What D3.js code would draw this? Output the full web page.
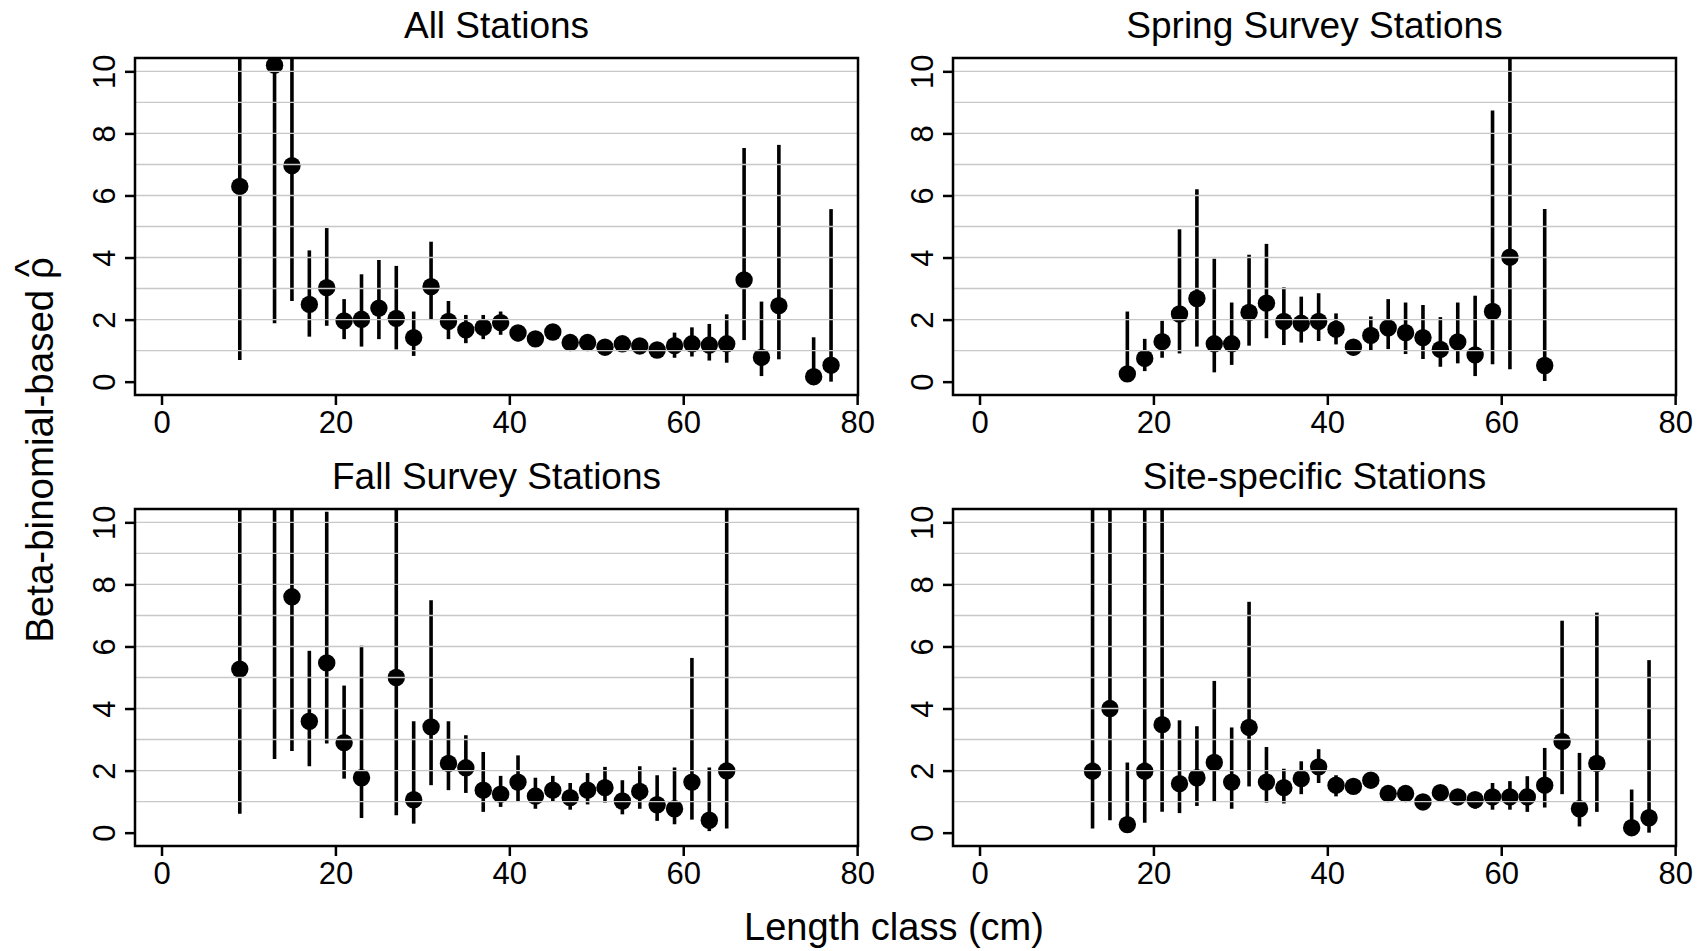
<!DOCTYPE html>
<html>
<head>
<meta charset="utf-8">
<script src="https://d3js.org/d3.v7.min.js"></script>
<style>
    body { margin: 0; background: #fff; }
    svg { display: block; font-family: "Liberation Sans", Arial, sans-serif; }
</style>
</head>
<body>
<div id="container"></div>
<script>
//beta-binomial rho estimates by length class, four station groups
//values above the frame (off-chart CI ends) are given as 12

//All Stations
var allLen = [9, 13, 15, 17, 19, 21, 23, 25, 27, 29, 31, 33, 35, 37, 39, 41, 43, 45, 47, 49, 51, 53, 55, 57, 59, 61, 63, 65, 67, 69, 71, 75, 77];
var allEst = [6.29, 10.2, 6.96, 2.49, 3.03, 1.96, 2.01, 2.37, 2.04, 1.42, 3.06, 1.94, 1.67, 1.75, 1.90, 1.57, 1.38, 1.60, 1.26, 1.26, 1.11, 1.22, 1.15, 1.02, 1.16, 1.22, 1.18, 1.22, 3.28, 0.78, 2.45, 0.16, 0.53];
var allHi  = [12, 12, 12, 4.23, 4.95, 2.66, 3.46, 3.92, 3.73, 2.26, 4.51, 2.60, 2.15, 2.15, 2.26, 1.80, 1.55, 1.75, 1.40, 1.40, 1.25, 1.38, 1.30, 1.20, 1.58, 1.75, 1.86, 2.17, 7.53, 2.58, 7.63, 1.43, 5.56];
var allLo  = [0.70, 1.88, 2.60, 1.45, 1.80, 1.37, 1.13, 1.37, 1.04, 0.83, 1.99, 1.37, 1.24, 1.37, 1.51, 1.30, 1.20, 1.45, 1.12, 1.12, 0.98, 1.08, 1.00, 0.77, 0.77, 0.81, 0.68, 0.61, 1.34, 0.18, 0.72, 0.05, 0.00];

//Spring Survey Stations
var springLen = [17, 19, 21, 23, 25, 27, 29, 31, 33, 35, 37, 39, 41, 43, 45, 47, 49, 51, 53, 55, 57, 59, 61, 65];
var springEst = [0.25, 0.75, 1.29, 2.18, 2.68, 1.22, 1.22, 2.23, 2.53, 1.94, 1.88, 1.94, 1.69, 1.11, 1.49, 1.73, 1.58, 1.42, 1.04, 1.28, 0.86, 2.26, 4.01, 0.52];
var springHi  = [2.26, 1.38, 1.96, 4.91, 6.20, 3.96, 2.55, 4.09, 4.44, 3.04, 2.74, 2.85, 2.20, 1.29, 2.10, 2.66, 2.55, 2.47, 2.08, 2.55, 2.77, 8.74, 12, 5.56];
var springLo  = [0.02, 0.34, 0.77, 0.91, 1.13, 0.30, 0.54, 1.16, 1.40, 1.18, 1.26, 1.31, 1.20, 0.85, 1.02, 1.05, 0.89, 0.73, 0.48, 0.59, 0.18, 0.56, 0.40, 0.02];

//Fall Survey Stations
var fallLen = [9, 13, 15, 17, 19, 21, 23, 27, 29, 31, 33, 35, 37, 39, 41, 43, 45, 47, 49, 51, 53, 55, 57, 59, 61, 63, 65];
var fallEst = [5.27, 11.5, 7.60, 3.59, 5.47, 2.90, 1.77, 5.00, 1.06, 3.41, 2.23, 2.09, 1.37, 1.24, 1.63, 1.18, 1.37, 1.13, 1.37, 1.45, 1.02, 1.33, 0.90, 0.77, 1.63, 0.40, 1.99];
var fallHi  = [12, 12, 12, 5.86, 10.34, 4.74, 6.02, 12, 3.59, 7.49, 3.59, 3.14, 2.60, 1.83, 2.49, 1.77, 1.83, 1.60, 1.92, 2.12, 1.69, 2.14, 1.85, 2.10, 5.63, 2.10, 12];
var fallLo  = [0.61, 2.37, 2.63, 2.14, 2.87, 1.74, 0.47, 0.56, 0.29, 1.53, 1.37, 1.28, 0.67, 0.83, 1.01, 0.77, 0.99, 0.74, 0.91, 0.97, 0.59, 0.77, 0.38, 0.27, 0.42, 0.05, 0.13];

//Site-specific Stations
var siteLen = [13, 15, 17, 19, 21, 23, 25, 27, 29, 31, 33, 35, 37, 39, 41, 43, 45, 47, 49, 51, 53, 55, 57, 59, 61, 63, 65, 67, 69, 71, 75, 77];
var siteEst = [1.98, 4.00, 0.26, 1.98, 3.48, 1.58, 1.77, 2.26, 1.63, 3.39, 1.63, 1.45, 1.74, 2.12, 1.53, 1.49, 1.69, 1.26, 1.26, 0.99, 1.29, 1.15, 1.06, 1.15, 1.15, 1.15, 1.53, 2.94, 0.77, 2.23, 0.16, 0.48];
var siteHi  = [12, 12, 2.26, 12, 12, 3.62, 3.43, 4.89, 3.39, 7.44, 2.76, 2.06, 2.30, 2.69, 1.85, 1.62, 1.80, 1.40, 1.40, 1.12, 1.42, 1.28, 1.31, 1.60, 1.66, 1.82, 2.73, 6.83, 2.57, 7.09, 1.39, 5.56];
var siteLo  = [0.13, 0.40, 0.02, 0.32, 0.67, 0.63, 0.86, 1.01, 0.77, 1.49, 0.97, 0.94, 1.24, 1.60, 1.17, 1.35, 1.55, 1.12, 1.12, 0.86, 1.15, 1.00, 0.77, 0.74, 0.74, 0.67, 0.81, 1.24, 0.20, 0.67, 0.02, 0.00];

var panelTitles = ["All Stations", "Spring Survey Stations", "Fall Survey Stations", "Site-specific Stations"];
var xTicks = [0, 20, 40, 60, 80];
var yTicks = [0, 2, 4, 6, 8, 10];
var yGrid = [1, 2, 3, 4, 5, 6, 7, 8, 9, 10];
var xTitle = "Length class (cm)";
var yTitle = "Beta-binomial-based ";

//helper to zip the arrays into rows for d3
function makeRows(len, est, lo, hi){
    return len.map(function(d, i){
        return {len: d, est: est[i], lo: lo[i], hi: hi[i]};
    });
}

var panelData = [
    makeRows(allLen, allEst, allLo, allHi),
    makeRows(springLen, springEst, springLo, springHi),
    makeRows(fallLen, fallEst, fallLo, fallHi),
    makeRows(siteLen, siteEst, siteLo, siteHi)
];

var width = 1702,
    height = 951;

//frame positions of the two columns and two rows
var cols = [[135, 858], [953, 1676]],
    rows = [[58, 395], [509, 846]];

var svg = d3.select("#container")
    .append("svg")
    .attr("width", width)
    .attr("height", height);

panelData.forEach(function(data, p){
    var c = cols[p % 2], r = rows[Math.floor(p / 2)];
    drawPanel(data, panelTitles[p], c[0], c[1], r[0], r[1], p);
});

function drawPanel(data, title, x0, x1, y0, y1, p){
    var x = d3.scaleLinear().domain([-3.05, 80.1]).range([x0, x1]);
    var y = d3.scaleLinear().domain([-0.43, 10.43]).range([y1, y0]);

    var g = svg.append("g").attr("class", "panel");

    //clip everything to the plot frame
    svg.append("clipPath")
        .attr("id", "clip" + p)
        .append("rect")
        .attr("x", x0).attr("y", y0)
        .attr("width", x1 - x0).attr("height", y1 - y0);

    var plot = g.append("g").attr("clip-path", "url(#clip" + p + ")");

    //confidence intervals
    plot.selectAll(".ci")
        .data(data)
        .enter()
        .append("line")
        .attr("class", "ci")
        .attr("x1", function(d){ return x(d.len); })
        .attr("x2", function(d){ return x(d.len); })
        .attr("y1", function(d){ return y(d.lo); })
        .attr("y2", function(d){ return y(d.hi); })
        .style("stroke", "#000")
        .style("stroke-width", 3.6);

    //point estimates
    plot.selectAll(".dot")
        .data(data)
        .enter()
        .append("circle")
        .attr("class", "dot")
        .attr("cx", function(d){ return x(d.len); })
        .attr("cy", function(d){ return y(d.est); })
        .attr("r", 8.7)
        .style("fill", "#000");

    //horizontal grid (shows through the markers in the original)
    plot.selectAll(".grid")
        .data(yGrid)
        .enter()
        .append("line")
        .attr("class", "grid")
        .attr("x1", x0).attr("x2", x1)
        .attr("y1", function(d){ return y(d); })
        .attr("y2", function(d){ return y(d); })
        .style("stroke", "#c8c8c8")
        .style("stroke-width", 1.4);

    //y axis with rotated labels
    var yAxis = g.append("g")
        .attr("transform", "translate(" + x0 + ",0)")
        .call(d3.axisLeft(y).tickValues(yTicks).tickSize(10).tickSizeOuter(0));
    yAxis.select(".domain").remove();
    yAxis.selectAll("line").style("stroke", "#000").style("stroke-width", 2.5);
    yAxis.selectAll("text")
        .attr("x", null).attr("dy", null)
        .attr("text-anchor", "middle")
        .attr("transform", "translate(-20,0) rotate(-90)")
        .style("font-size", "31px")
        .style("font-family", "Liberation Sans, Arial, sans-serif")
        .style("fill", "#000");

    //x axis
    var xAxis = g.append("g")
        .attr("transform", "translate(0," + y1 + ")")
        .call(d3.axisBottom(x).tickValues(xTicks).tickSize(10).tickSizeOuter(0));
    xAxis.select(".domain").remove();
    xAxis.selectAll("line").style("stroke", "#000").style("stroke-width", 2.5);
    xAxis.selectAll("text")
        .attr("y", 38).attr("dy", null)
        .style("font-size", "31px")
        .style("font-family", "Liberation Sans, Arial, sans-serif")
        .style("fill", "#000");

    //frame
    g.append("rect")
        .attr("x", x0).attr("y", y0)
        .attr("width", x1 - x0).attr("height", y1 - y0)
        .style("fill", "none")
        .style("stroke", "#000")
        .style("stroke-width", 2.5);

    //panel title
    g.append("text")
        .attr("x", (x0 + x1) / 2)
        .attr("y", y0 - 20)
        .attr("text-anchor", "middle")
        .style("font-size", "37px")
        .text(title);
}

//x axis title
svg.append("text")
    .attr("x", 894)
    .attr("y", 940)
    .attr("text-anchor", "middle")
    .style("font-size", "38px")
    .text(xTitle);

//y axis title with a hat over rho
var yLab = svg.append("g")
    .attr("transform", "translate(53,450) rotate(-90)");

var yText = yLab.append("text")
    .attr("text-anchor", "middle")
    .style("font-size", "38.5px");
yText.append("tspan").text(yTitle);
var rho = yText.append("tspan").text("ρ");

var totalLen = yText.node().getComputedTextLength();
var rhoLen = rho.node().getComputedTextLength();

yLab.append("text")
    .attr("x", totalLen / 2 - rhoLen / 2)
    .attr("y", -11)
    .attr("text-anchor", "middle")
    .style("font-size", "38.5px")
    .text("^");
</script>
</body>
</html>
